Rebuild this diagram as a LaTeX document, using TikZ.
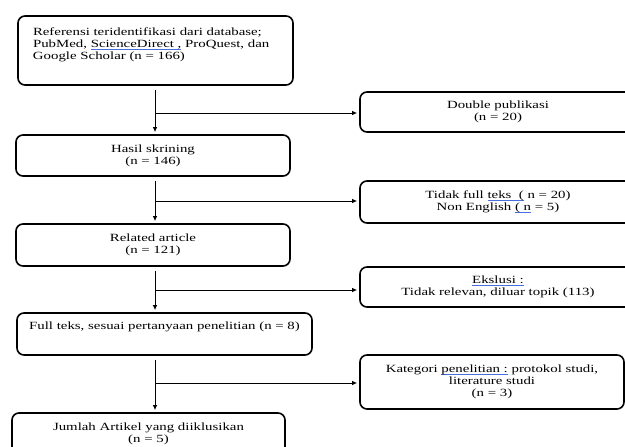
\documentclass[tikz,border=0pt]{standalone}
\usepackage{fontspec}
\setmainfont[FakeStretch=1.35]{Liberation Serif}
\usetikzlibrary{arrows.meta}
\definecolor{spell}{RGB}{70,110,220}
\newcommand{\spl}[1]{\setbox0\hbox{#1}\rlap{\color{spell}\rule[-2pt]{\wd0}{0.6pt}}\box0\relax}
\tikzset{
  box/.style={draw, line width=1.6pt, rounded corners=7pt, inner sep=0pt, align=center,
    font=\fontsize{11}{12}\selectfont},
  conn/.style={line width=0.9pt, -{Latex[length=5pt,width=4.5pt]}, shorten <=4pt, shorten >=2pt},
  branch/.style={line width=0.9pt, -{Latex[length=5pt,width=4.5pt]}, shorten >=2pt}
}
\begin{document}
\begin{tikzpicture}[x=1pt,y=-1pt]
\useasboundingbox (0,0) rectangle (625,447);
\clip (0,0) rectangle (625,447);
\coordinate (spine) at (155,0);
% left column
\node[box, minimum width=275pt, minimum height=69pt] (b1) at (155.5,50.5)
  {\parbox[c][69pt][t]{275pt}{\raggedright\leftskip=15pt\vspace*{12pt}Referensi teridentifikasi dari database;\\
   PubMed, \spl{ScienceDirect ,} ProQuest, dan\\ Google Scholar (n = 166)}};
\node[box, minimum width=274pt, minimum height=41pt] (b2) at (153,155.5)
  {Hasil skrining\\(n = 146)};
\node[box, minimum width=274pt, minimum height=42pt] (b3) at (153,245)
  {Related article\\(n = 121)};
\node[box, minimum width=295pt, minimum height=42pt] (b4) at (164.5,334)
  {\parbox[c][42pt][t]{295pt}{\centering\vspace*{9pt}Full teks, sesuai pertanyaan penelitian (n = 8)}};
\node[box, minimum width=273pt, minimum height=42pt] (b5) at (148.5,434)
  {Jumlah Artikel yang diiklusikan\\(n = 5)};
% right column
\node[box, minimum width=276pt, minimum height=40pt] (r1) at (498,112)
  {Double publikasi\\(n = 20)};
\node[box, minimum width=276pt, minimum height=42pt] (r2) at (498,202)
  {Tidak full \spl{teks\ \ (} n = 20)\\Non English \spl{( n} = 5)};
\node[box, minimum width=276pt, minimum height=40pt] (r3) at (498,287)
  {\spl{Ekslusi :}\\Tidak relevan, diluar topik (113)};
\node[box, minimum width=264pt, minimum height=54pt] (r4) at (492,382)
  {Kategori \spl{penelitian :} protokol studi,\\literature studi\\(n = 3)};
% connectors
\draw[conn] (b1.south -| spine) -- (b2.north -| spine);
\draw[conn] (b2.south -| spine) -- (b3.north -| spine);
\draw[conn] (b3.south -| spine) -- (b4.north -| spine);
\draw[conn] (b4.south -| spine) -- (b5.north -| spine);
\draw[branch] ([yshift=-1pt]r1.west -| spine) -- ([yshift=-1pt]r1.west);
\draw[branch] ([yshift=1pt]r2.west -| spine) -- ([yshift=1pt]r2.west);
\draw[branch] ([yshift=-3pt]r3.west -| spine) -- ([yshift=-3pt]r3.west);
\draw[branch] ([yshift=-1pt]r4.west -| spine) -- ([yshift=-1pt]r4.west);
\end{tikzpicture}
\end{document}
